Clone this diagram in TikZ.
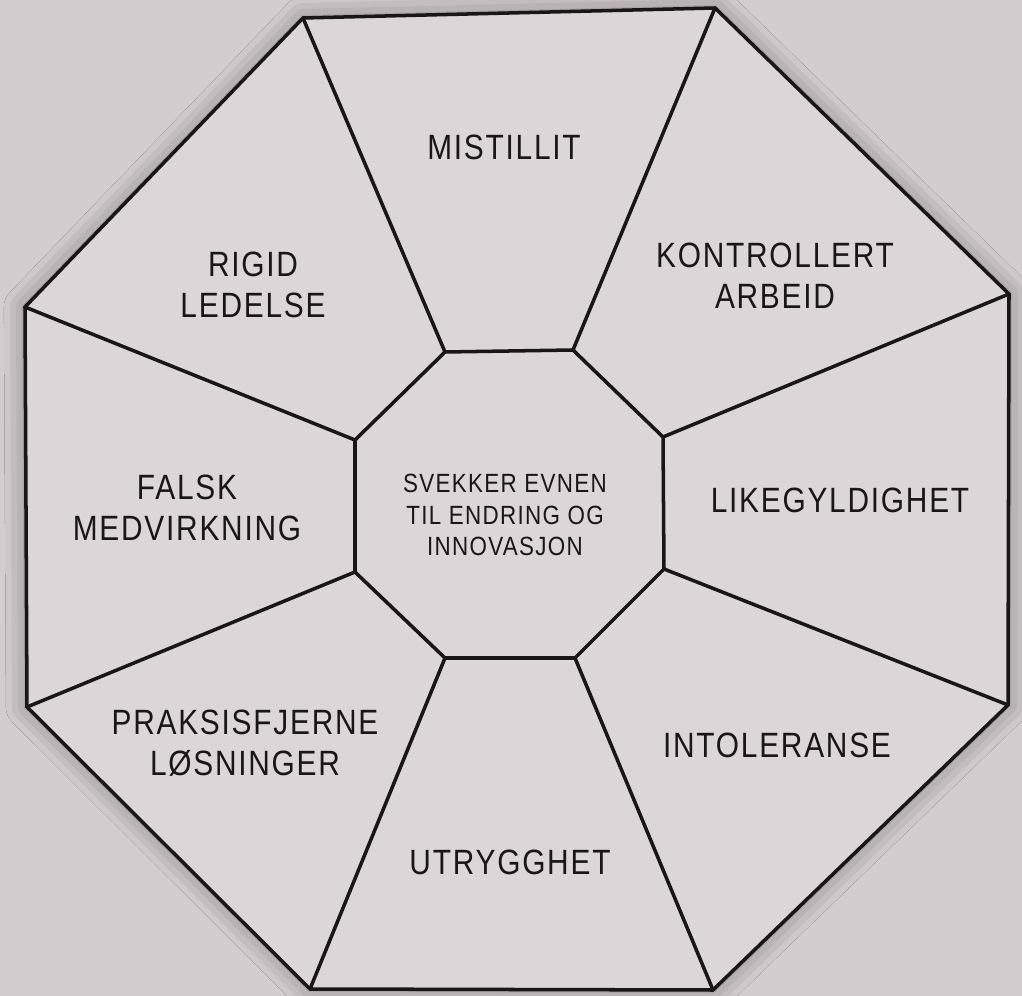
\documentclass[tikz,border=0pt]{standalone}
\usepackage{fontspec}
\usetikzlibrary{shadows.blur}
\newfontfamily\lblfont[FakeStretch=0.85,LetterSpace=5]{Liberation Sans}

\begin{document}
\begin{tikzpicture}
[x=0.02cm,y=-0.02cm
,oct/.style={draw=lineclr,line width=2pt,line join=miter}
,sp/.style={draw=lineclr,line width=2pt}
,lbl/.style={align=center,text=lineclr,font=\lblfont\fontsize{20}{23.5}\selectfont}
,mid/.style={lbl,font=\lblfont\fontsize{15}{18}\selectfont}]
\definecolor{bgclr}{RGB}{212,205,208}
\definecolor{fillclr}{RGB}{220,214,216}
\definecolor{lineclr}{RGB}{26,22,24}
\fill[bgclr] (0,0) rectangle (1022,996);
\useasboundingbox (0,0) rectangle (1022,996);
% outer octagon
\coordinate (o1) at (303,18);
\coordinate (o2) at (715,8);
\coordinate (o3) at (1009,294);
\coordinate (o4) at (1008,705);
\coordinate (o5) at (713,990);
\coordinate (o6) at (310,989);
\coordinate (o7) at (27,707);
\coordinate (o8) at (25,307);
% inner octagon
\coordinate (i1) at (445,352);
\coordinate (i2) at (573,350);
\coordinate (i3) at (663,437);
\coordinate (i4) at (664,569);
\coordinate (i5) at (575,658);
\coordinate (i6) at (445,658);
\coordinate (i7) at (355,572);
\coordinate (i8) at (355,440);
\path[fill=fillclr,blur shadow={shadow xshift=0pt,shadow yshift=0pt,shadow blur radius=12pt,shadow opacity=40}]
  (o1) -- (o2) -- (o3) -- (o4) -- (o5) -- (o6) -- (o7) -- (o8) -- cycle;
\draw[oct] (o1) -- (o2) -- (o3) -- (o4) -- (o5) -- (o6) -- (o7) -- (o8) -- cycle;
\draw[oct] (i1) -- (i2) -- (i3) -- (i4) -- (i5) -- (i6) -- (i7) -- (i8) -- cycle;
\draw[sp] (i1) -- (o1);
\draw[sp] (i2) -- (o2);
\draw[sp] (i3) -- (o3);
\draw[sp] (i4) -- (o4);
\draw[sp] (i5) -- (o5);
\draw[sp] (i6) -- (o6);
\draw[sp] (i7) -- (o7);
\draw[sp] (i8) -- (o8);
% labels
\node[mid] (core) at (505,515) {SVEKKER EVNEN\\TIL ENDRING OG\\INNOVASJON};
\node[lbl] (mist) at (504,147) {MISTILLIT};
\node[lbl] (kontr) at (775,276) {KONTROLLERT\\ARBEID};
\node[lbl] (like) at (840,500) {LIKEGYLDIGHET};
\node[lbl] (intol) at (777,745) {INTOLERANSE};
\node[lbl] (utr) at (510,862) {UTRYGGHET};
\node[lbl] (prak) at (245,743) {PRAKSISFJERNE\\LØSNINGER};
\node[lbl] (falsk) at (187,508) {FALSK\\MEDVIRKNING};
\node[lbl] (rigid) at (253,285) {RIGID\\LEDELSE};
\end{tikzpicture}
\end{document}
